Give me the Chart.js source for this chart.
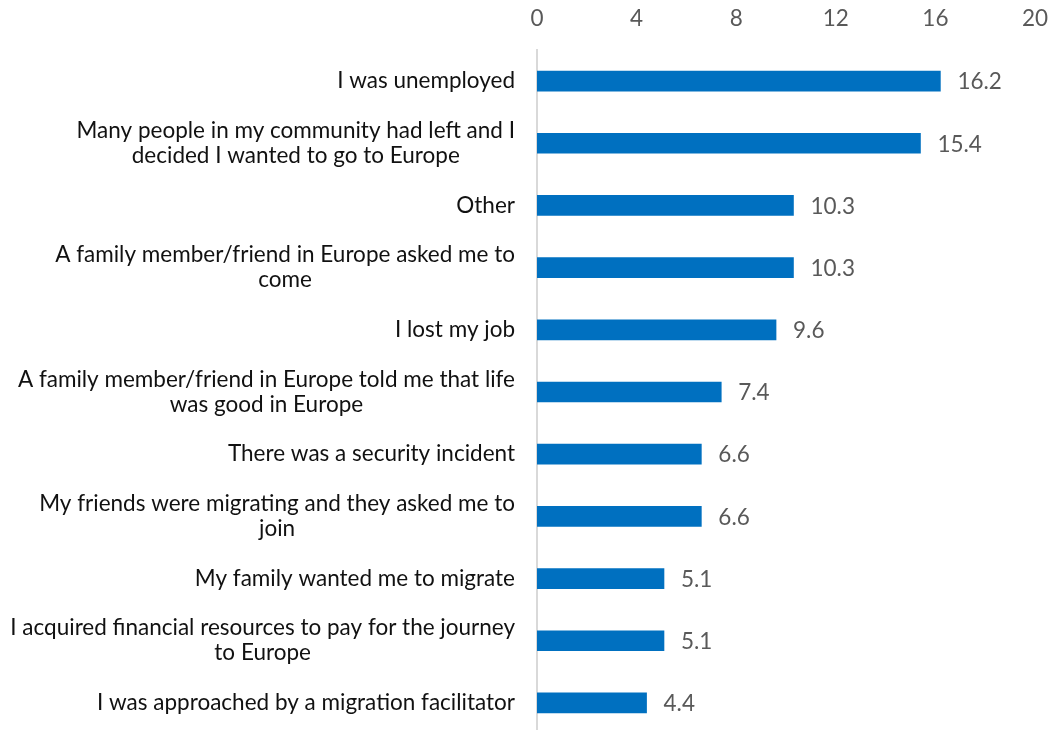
<!DOCTYPE html>
<html>
<head>
<meta charset="utf-8">
<script src="https://cdn.jsdelivr.net/npm/chart.js@4"></script>
<style>
  html, body { margin: 0; padding: 0; background: #fff; overflow: hidden; }
  #wrap { width: 1052px; height: 734px; }
</style>
</head>
<body>
<div id="wrap"><canvas id="reasonsChart"></canvas></div>
<script>
// Chart data
const reasons = [
    ['I was unemployed'],
    ['Many people in my community had left and I', 'decided I wanted to go to Europe'],
    ['Other'],
    ['A family member/friend in Europe asked me to', 'come'],
    ['I lost my job'],
    ['A family member/friend in Europe told me that life', 'was good in Europe'],
    ['There was a security incident'],
    ['My friends were migrating and they asked me to', 'join'],
    ['My family wanted me to migrate'],
    ['I acquired financial resources to pay for the journey', 'to Europe'],
    ['I was approached by a migration facilitator']
];
const percentages = [16.2, 15.4, 10.3, 10.3, 9.6, 7.4, 6.6, 6.6, 5.1, 5.1, 4.4];
const xTicks = [0, 4, 8, 12, 16, 20];

const FONT = 'Lato, "Open Sans", sans-serif';
const FONT_SIZE = 22.5;

// Category labels: block right-aligned to the axis, lines centred on each other
const categoryLabels = {
    id: 'categoryLabels',
    afterDraw(chart) {
        const ctx = chart.ctx;
        const yScale = chart.scales.y;
        const right = yScale.right - 22;
        const lineH = 25;
        ctx.save();
        ctx.font = FONT_SIZE + 'px ' + FONT;
        ctx.fillStyle = '#111111';
        ctx.textAlign = 'center';
        ctx.textBaseline = 'middle';
        reasons.forEach((lines, i) => {
            const y = yScale.getPixelForTick(i);
            const maxW = Math.max(...lines.map(l => ctx.measureText(l).width));
            const cx = right - maxW / 2;
            const top = y - (lines.length - 1) * lineH / 2;
            lines.forEach((line, j) => ctx.fillText(line, cx, top + j * lineH));
        });
        ctx.restore();
    }
};

// Draws the value to the right of every bar
const valueLabels = {
    id: 'valueLabels',
    afterDatasetsDraw(chart) {
        const ctx = chart.ctx;
        const meta = chart.getDatasetMeta(0);
        ctx.save();
        ctx.font = FONT_SIZE + 'px ' + FONT;
        ctx.fillStyle = '#595959';
        ctx.textAlign = 'left';
        ctx.textBaseline = 'middle';
        meta.data.forEach((bar, i) => {
            ctx.fillText(percentages[i].toFixed(1), bar.x + 17, bar.y + 1);
        });
        ctx.restore();
    }
};

const ctx = document.getElementById('reasonsChart').getContext('2d');
new Chart(ctx, {
    type: 'bar',
    data: {
        labels: reasons,
        datasets: [{
            data: percentages,
            backgroundColor: '#0070C0',
            barThickness: 20
        }]
    },
    options: {
        indexAxis: 'y',
        responsive: true,
        maintainAspectRatio: false,
        animation: false,
        layout: { padding: 0 },
        plugins: {
            legend: { display: false },
            tooltip: { enabled: false }
        },
        scales: {
            x: {
                position: 'top',
                min: 0,
                max: 20,
                afterBuildTicks: scale => { scale.ticks = xTicks.map(v => ({ value: v })); },
                afterFit: scale => { scale.height = 50; scale.paddingRight = 17; },
                grid: { display: false, drawTicks: false },
                border: { display: false },
                ticks: {
                    color: '#595959',
                    padding: 18,
                    font: { family: FONT, size: FONT_SIZE }
                }
            },
            y: {
                afterFit: scale => { scale.width = 537; },
                grid: { display: false, drawTicks: false },
                border: { display: true, color: '#d9d9d9', width: 2 },
                ticks: { display: false }
            }
        }
    },
    plugins: [valueLabels, categoryLabels]
});
</script>
</body>
</html>
